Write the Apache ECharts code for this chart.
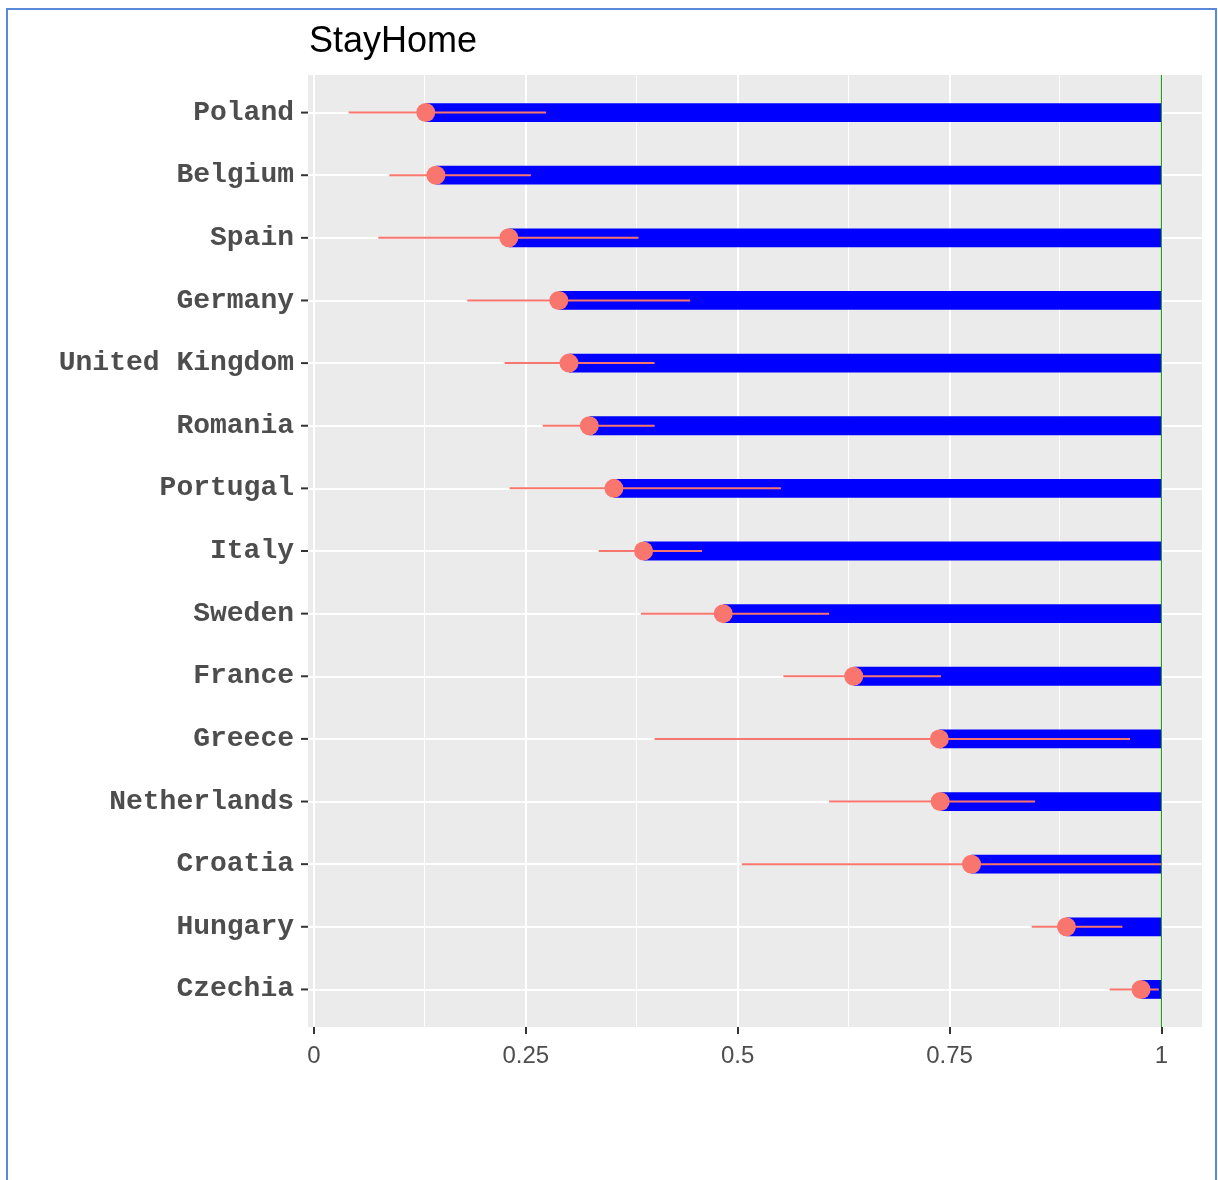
<!DOCTYPE html>
<html>
<head>
<meta charset="utf-8">
<title>StayHome</title>
<script src="https://cdn.jsdelivr.net/npm/echarts@6/dist/echarts.min.js"></script>
<style>
  html, body { margin: 0; padding: 0; background: #ffffff; }
  #chart { position: absolute; left: 0; top: 0; width: 1218px; height: 1180px; }
  #frame { position: absolute; left: 6px; top: 8px; width: 1211px; height: 1200px;
           border: 2px solid #5a88d8; box-sizing: border-box; pointer-events: none; }
</style>
</head>
<body>
<div id="chart"></div>
<div id="frame"></div>
<script>
// Countries, top to bottom
const countries = ['Poland', 'Belgium', 'Spain', 'Germany', 'United Kingdom', 'Romania',
  'Portugal', 'Italy', 'Sweden', 'France', 'Greece', 'Netherlands', 'Croatia', 'Hungary', 'Czechia'];
// Point estimate for each country
const estimate = [0.132, 0.144, 0.230, 0.289, 0.301, 0.325, 0.354, 0.389, 0.483, 0.637,
  0.738, 0.739, 0.776, 0.888, 0.976];
// Interval bounds
const ciLow = [0.041, 0.089, 0.076, 0.181, 0.225, 0.270, 0.231, 0.336, 0.386, 0.554,
  0.402, 0.608, 0.505, 0.847, 0.939];
const ciHigh = [0.274, 0.256, 0.383, 0.444, 0.402, 0.402, 0.551, 0.458, 0.608, 0.740,
  0.963, 0.851, 1.000, 0.954, 0.997];
// Reference level the bars run to
const reference = 1;
// x-axis ticks
const xMajorTicks = [0, 0.25, 0.5, 0.75, 1];
const xMinorTicks = [0.125, 0.375, 0.625, 0.875];

const n = countries.length;
const rowPos = countries.map((c, i) => i + 1);

// Axis extents with ggplot-style expansion (5% continuous, 0.6 discrete)
const lo = Math.min(...ciLow, reference);
const hi = Math.max(...ciHigh, reference);
const pad = 0.05 * (hi - lo);
const xMin = lo - pad, xMax = hi + pad;
const yMin = 1 - 0.6, yMax = n + 0.6;

const barData = estimate.map((v, i) => [v, i + 1, reference]);
const ciData = estimate.map((v, i) => [ciLow[i], i + 1, ciHigh[i]]);
const pointData = estimate.map((v, i) => [v, i + 1]);
const tickData = rowPos.map(p => [xMin, p]);

const PANEL = '#EBEBEB';
const SALMON = '#F8766D';

const chart = echarts.init(document.getElementById('chart'), null, { renderer: 'canvas' });

const white = w => ({ color: '#ffffff', width: w, type: 'solid' });

chart.setOption({
  animation: false,
  backgroundColor: 'transparent',
  title: {
    text: 'StayHome',
    left: 304,
    top: 19,
    textStyle: { fontFamily: 'Liberation Sans, Arial, sans-serif', fontSize: 36, fontWeight: 'normal', color: '#000000' }
  },
  grid: {
    left: 308, right: 16, top: 75, bottom: 153,
    show: true, backgroundColor: PANEL, borderWidth: 0
  },
  xAxis: {
    type: 'value',
    min: xMin, max: xMax,
    axisLine: { show: false },
    splitLine: { show: false },
    axisTick: { show: true, customValues: xMajorTicks, length: 7, lineStyle: { color: '#333333', width: 2 } },
    axisLabel: {
      customValues: xMajorTicks,
      formatter: v => String(v),
      margin: 17,
      fontFamily: 'Liberation Sans, Arial, sans-serif',
      fontSize: 24,
      color: '#4D4D4D'
    }
  },
  yAxis: {
    type: 'value',
    inverse: true,
    min: yMin, max: yMax,
    axisLine: { show: false },
    splitLine: { show: false },
    axisTick: { show: false },
    axisLabel: {
      customValues: rowPos,
      formatter: v => countries[Math.round(v) - 1] || '',
      margin: 14,
      padding: [5, 0, 0, 0],
      fontFamily: 'Liberation Mono, Courier New, monospace',
      fontWeight: 'bold',
      fontSize: 28,
      color: '#4D4D4D'
    }
  },
  series: [
    {
      // panel grid lines
      type: 'scatter',
      data: [],
      silent: true,
      markLine: {
        z: 1,
        silent: true,
        symbol: ['none', 'none'],
        label: { show: false },
        animation: false,
        data: [
          ...xMinorTicks.map(v => ({ xAxis: v, lineStyle: white(1) })),
          ...xMajorTicks.map(v => ({ xAxis: v, lineStyle: white(2) })),
          ...rowPos.map(v => ({ yAxis: v, lineStyle: white(2) }))
        ]
      }
    },
    {
      // y-axis tick marks, just left of the panel
      type: 'custom',
      z: 2,
      silent: true,
      clip: false,
      data: tickData,
      renderItem: function (params, api) {
        const p = api.coord([api.value(0), api.value(1)]);
        const x0 = params.coordSys.x;
        return {
          type: 'line',
          shape: { x1: x0 - 7, y1: p[1], x2: x0, y2: p[1] },
          style: { stroke: '#333333', lineWidth: 2 }
        };
      }
    },
    {
      // blue bars from the estimate up to the reference level
      type: 'custom',
      z: 2,
      silent: true,
      data: barData,
      renderItem: function (params, api) {
        const y = api.value(1);
        const s = api.coord([api.value(0), y]);
        const e = api.coord([api.value(2), y]);
        const h = api.size([0, 0.3])[1];
        return {
          type: 'rect',
          shape: { x: s[0], y: s[1] - h / 2, width: e[0] - s[0], height: h },
          style: { fill: '#0000FF' }
        };
      }
    },
    {
      // vertical reference line at 1, spanning the panel
      type: 'custom',
      z: 3,
      silent: true,
      data: [[reference, 1]],
      renderItem: function (params, api) {
        const cs = params.coordSys;
        const p = api.coord([api.value(0), api.value(1)]);
        const x = Math.round(p[0]) + 0.5;
        return {
          type: 'line',
          shape: { x1: x, y1: cs.y, x2: x, y2: cs.y + cs.height },
          style: { stroke: '#1FA01F', lineWidth: 1.2, opacity: 1 }
        };
      }
    },
    {
      // interval lines
      type: 'custom',
      z: 4,
      silent: true,
      data: ciData,
      renderItem: function (params, api) {
        const y = api.value(1);
        const a = api.coord([api.value(0), y]);
        const b = api.coord([api.value(2), y]);
        return {
          type: 'line',
          shape: { x1: a[0], y1: a[1], x2: b[0], y2: b[1] },
          style: { stroke: SALMON, lineWidth: 2 }
        };
      }
    },
    {
      // estimates
      type: 'scatter',
      z: 5,
      silent: true,
      data: pointData,
      symbol: 'circle',
      symbolSize: 19,
      itemStyle: { color: SALMON, opacity: 1 }
    }
  ]
});
</script>
</body>
</html>
